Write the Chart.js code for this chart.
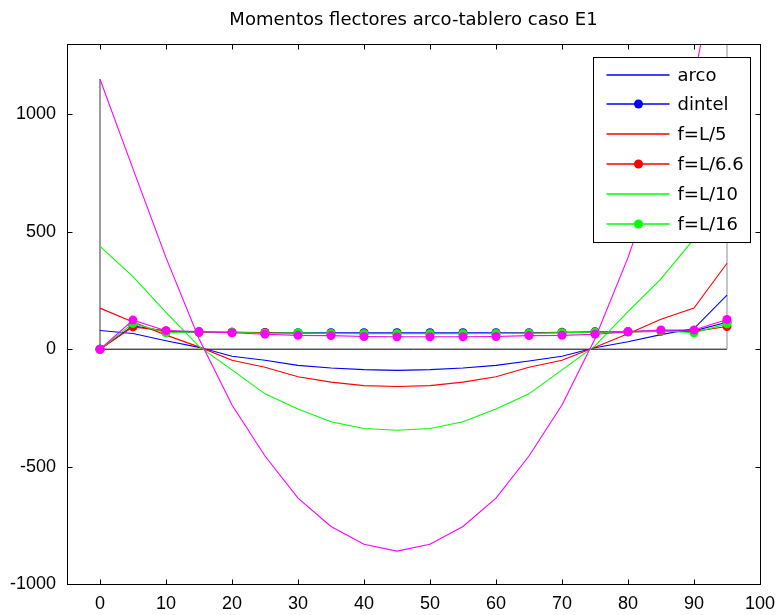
<!DOCTYPE html>
<html>
<head>
<meta charset="utf-8">
<script src="https://cdn.jsdelivr.net/npm/chart.js@4"></script>
<style>
  body { margin: 0; background: #fff; }
  canvas { display: block; }
</style>
</head>
<body>
<canvas id="chart" width="784" height="615"></canvas>
<script>
// Abscisas de las secciones (m)
const xs = [0, 5, 10, 15, 20, 25, 30, 35, 40, 45, 50, 55, 60, 65, 70, 75, 80, 85, 90, 95];

// Momentos flectores (kN·m)
const arco = [80, 67, 36, 8, -30, -47, -69, -80, -87, -90, -87, -80, -69, -50, -30, 6, 32, 62, 88, 230];
const dintel = [0, 100, 76, 73, 72, 71, 70, 70, 70, 70, 70, 70, 70, 70, 72, 74, 75, 78, 78, 115];
const fL5 = [175, 116, 60, 10, -47, -77, -117, -140, -155, -159, -155, -140, -117, -77, -47, 8, 66, 128, 175, 366];
const fL66 = [0, 95, 78, 72, 72, 70, 68, 67, 67, 67, 67, 67, 67, 68, 70, 72, 74, 76, 76, 97];
const fL10 = [438, 309, 157, 12, -88, -190, -255, -309, -338, -345, -338, -309, -255, -190, -88, 14, 160, 300, 470, 900];
const fL16 = [0, 110, 70, 75, 72, 68, 70, 67, 66, 66, 66, 66, 67, 68, 70, 72, 74, 78, 70, 108];
const fL20 = [1150, 768, 390, 45, -238, -455, -634, -755, -831, -860, -831, -755, -634, -455, -238, 45, 390, 800, 1150, 1880];
const fL20dintel = [0, 124, 79, 75, 70, 64, 59, 58, 54, 53, 53, 53, 54, 58, 59, 64, 74, 82, 82, 127];

const legendLabels = ["arco", "dintel", "f=L/5", "f=L/6.6", "f=L/10", "f=L/16"];
const xTicks = [0, 10, 20, 30, 40, 50, 60, 70, 80, 90, 100];
const yTicks = [-1000, -500, 0, 500, 1000];

function puntos(ys) {
    return xs.map((x, i) => ({ x: x, y: ys[i] }));
}

function serie(label, ys, color, marcas) {
    return {
        label: label,
        data: puntos(ys),
        color: color,
        borderColor: color,
        backgroundColor: color,
        borderWidth: 1.1,
        pointRadius: marcas ? 4.5 : 0,
        pointBorderWidth: 0,
        pointBackgroundColor: color,
        showLine: true,
        tension: 0,
    };
}

// Contorno del tablero: verticales en los apoyos y eje horizontal en y = 0
const ultimo = xs.length - 1;
const tablero = {
    label: "tablero",
    data: [
        { x: xs[0], y: fL20[0] },
        { x: xs[0], y: 0 },
        { x: xs[ultimo], y: 0 },
        { x: xs[ultimo], y: fL20[ultimo] },
    ],
    borderColor: "#000",
    borderWidth: 1,
    pointRadius: 0,
    showLine: true,
    segment: {
        borderColor: (c) => (c.p0DataIndex === 1 ? "#000" : "#8c8c8c"),
    },
};

const series = [
    tablero,
    serie(legendLabels[0], arco, "#0000ff", false),
    serie(legendLabels[1], dintel, "#0000ff", true),
    serie(legendLabels[2], fL5, "#ff0000", false),
    serie(legendLabels[3], fL66, "#ff0000", true),
    serie(legendLabels[4], fL10, "#00ff00", false),
    serie(legendLabels[5], fL16, "#00ff00", true),
    serie("f=L/20", fL20, "#ff00ff", false),
    serie("f=L/20 dintel", fL20dintel, "#ff00ff", true),
];
// lo último que se dibuja queda encima
series.forEach((d, i) => { d.order = series.length - i; });

// Marco de ejes con marcas hacia dentro en los cuatro lados
const marco = {
    id: "marco",
    afterDatasetsDraw(chart) {
        const { ctx, chartArea: a, scales } = chart;
        const L = Math.round(a.left) + 0.5, R = Math.round(a.right) + 0.5;
        const T = Math.round(a.top) + 0.5, B = Math.round(a.bottom) + 0.5;
        ctx.save();
        ctx.strokeStyle = "#000";
        ctx.lineWidth = 1;
        ctx.strokeRect(L, T, R - L, B - T);
        ctx.beginPath();
        xTicks.forEach((v) => {
            const px = Math.round(scales.x.getPixelForValue(v)) + 0.5;
            ctx.moveTo(px, B); ctx.lineTo(px, B - 5);
            ctx.moveTo(px, T); ctx.lineTo(px, T + 5);
        });
        yTicks.forEach((v) => {
            const py = Math.round(scales.y.getPixelForValue(v)) + 0.5;
            ctx.moveTo(L, py); ctx.lineTo(L + 5, py);
            ctx.moveTo(R, py); ctx.lineTo(R - 5, py);
        });
        ctx.stroke();
        ctx.restore();
    },
};

// Leyenda recuadrada en la esquina superior derecha
const leyenda = {
    id: "leyenda",
    afterDraw(chart) {
        const { ctx, chartArea: a } = chart;
        const w = 157, h = 185;
        const x0 = Math.round(a.right) - 10 - w + 0.5;
        const y0 = Math.round(a.top) + 13 + 0.5;
        ctx.save();
        ctx.fillStyle = "#fff";
        ctx.fillRect(x0, y0, w, h);
        ctx.strokeStyle = "#000";
        ctx.lineWidth = 1;
        ctx.strokeRect(x0, y0, w, h);
        ctx.font = "18px 'DejaVu Sans'";
        ctx.textBaseline = "middle";
        ctx.textAlign = "left";
        legendLabels.forEach((txt, i) => {
            const d = chart.data.datasets[i + 1];
            const y = Math.round(y0 + 17 + i * 29.8);
            ctx.strokeStyle = d.color;
            ctx.lineWidth = 1.4;
            ctx.beginPath();
            ctx.moveTo(x0 + 13, y);
            ctx.lineTo(x0 + 76, y);
            ctx.stroke();
            if (d.pointRadius > 0) {
                ctx.fillStyle = d.color;
                ctx.beginPath();
                ctx.arc(x0 + 45, y, d.pointRadius, 0, Math.PI * 2);
                ctx.fill();
            }
            ctx.fillStyle = "#000";
            ctx.fillText(txt, x0 + 84, y + 1);
        });
        ctx.restore();
    },
};

Chart.defaults.font.family = "'Liberation Sans', Arial, sans-serif";
Chart.defaults.color = "#000";

const ctx = document.getElementById("chart").getContext("2d");
const grafico = new Chart(ctx, {
    type: "scatter",
    data: { datasets: series },
    plugins: [marco, leyenda],
    options: {
        responsive: false,
        devicePixelRatio: 1,
        animation: false,
        layout: { padding: { left: 0, right: 21, top: 0, bottom: 0 } },
        plugins: {
            legend: { display: false },
            tooltip: { enabled: false },
            title: {
                display: true,
                text: "Momentos flectores arco-tablero caso E1",
                fullSize: false,
                color: "#000",
                font: { family: "'DejaVu Sans'", size: 18, weight: "normal", lineHeight: 1.2 },
                padding: { top: 10, bottom: 12.4 },
            },
        },
        scales: {
            x: {
                type: "linear",
                min: -5,
                max: 100,
                grid: { display: false, drawTicks: false },
                border: { display: false },
                ticks: { padding: 9, font: { size: 18 }, autoSkip: false, maxRotation: 0, callback: (v) => String(v) },
                afterBuildTicks: (s) => { s.ticks = xTicks.map((v) => ({ value: v })); },
                afterFit: (s) => { s.height = 31; },
            },
            y: {
                type: "linear",
                min: -1000,
                max: 1300,
                grid: { display: false, drawTicks: false },
                border: { display: false },
                ticks: { padding: 11, font: { size: 18 }, autoSkip: false, callback: (v) => String(v) },
                afterBuildTicks: (s) => { s.ticks = yTicks.map((v) => ({ value: v })); },
                afterFit: (s) => { s.width = 67; },
            },
        },
    },
});
</script>
</body>
</html>
